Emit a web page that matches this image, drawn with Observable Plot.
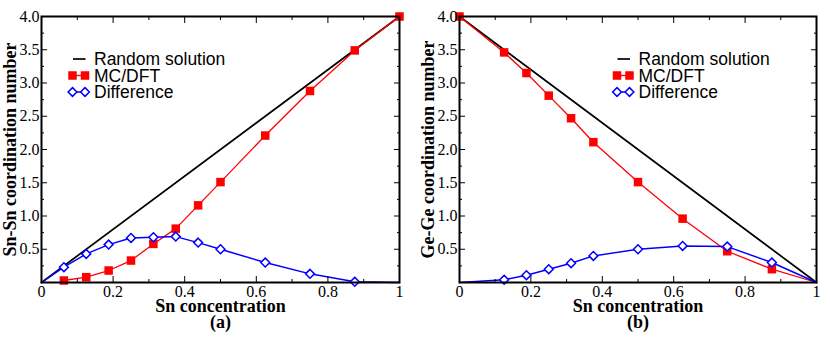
<!DOCTYPE html>
<html><head><meta charset="utf-8">
<script src="https://cdn.jsdelivr.net/npm/d3@7"></script>
<script src="https://cdn.jsdelivr.net/npm/@observablehq/plot@0.6"></script>
<style>
body{margin:0;background:#fff;}
#chart{display:flex;width:830px;height:350px;overflow:hidden;}
#chart svg{overflow:visible;}
</style></head><body><div id="chart"></div>
<script>
// ---- tick labels ----
const xMajorTicks = [0, 0.2, 0.4, 0.6, 0.8, 1];
const xMinorTicks = [0.1, 0.3, 0.5, 0.7, 0.9];
const yMajorTicks = [0.5, 1, 1.5, 2, 2.5, 3, 3.5, 4];
const yMinorTicks = [0.25, 0.75, 1.25, 1.75, 2.25, 2.75, 3.25, 3.75];
const xTickLabels = ["0", "0.2", "0.4", "0.6", "0.8", "1"];
const yTickLabels = ["0.5", "1.0", "1.5", "2.0", "2.5", "3.0", "3.5", "4.0"];
const xTitle = "Sn concentration";
const legendLabels = ["Random solution", "MC/DFT", "Difference"];

// ---- panel (a): Sn-Sn ----
const snRandomX = [0, 1];
const snRandomY = [0, 4];
const snMcX = [0.0625, 0.125, 0.1875, 0.25, 0.3125, 0.375, 0.4375, 0.5, 0.625, 0.75, 0.875, 1];
const snMcY = [0.03, 0.08, 0.18, 0.33, 0.58, 0.81, 1.16, 1.51, 2.21, 2.88, 3.49, 4.0];
const snDiffX = [0, 0.0625, 0.125, 0.1875, 0.25, 0.3125, 0.375, 0.4375, 0.5, 0.625, 0.75, 0.875, 1];
const snDiffY = [0, 0.23, 0.43, 0.57, 0.67, 0.68, 0.69, 0.60, 0.50, 0.30, 0.13, 0.01, 0];

// ---- panel (b): Ge-Ge ----
const geRandomX = [0, 1];
const geRandomY = [4, 0];
const geMcX = [0, 0.125, 0.1875, 0.25, 0.3125, 0.375, 0.5, 0.625, 0.75, 0.875, 1];
const geMcY = [4.0, 3.46, 3.15, 2.81, 2.47, 2.11, 1.51, 0.96, 0.47, 0.20, 0];
const geDiffX = [0, 0.125, 0.1875, 0.25, 0.3125, 0.375, 0.5, 0.625, 0.75, 0.875, 1];
const geDiffY = [0, 0.04, 0.11, 0.20, 0.29, 0.40, 0.50, 0.55, 0.54, 0.30, 0];

const rows = (xs, ys) => xs.map((x, i) => ({x, y: ys[i]}));

const RED = "#ff0000", BLUE = "#0000ff";
const serif = "Liberation Serif";
const sans = "Liberation Sans";

function panel({marginLeft, marginRight, yTitle, tag, random, mc, diff, mcMarker, legendDx}) {
  const tickOnly = {tickFormat: () => "", label: null};
  const xLab = xMajorTicks.map((v, i) => ({v, t: xTickLabels[i]}));
  const yLab = yMajorTicks.map((v, i) => ({v, t: yTickLabels[i]}));
  const plot = Plot.plot({
    width: 415, height: 350,
    marginTop: 16, marginBottom: 68, marginLeft, marginRight,
    x: {domain: [0, 1]},
    y: {domain: [0, 4]},
    style: {fontFamily: serif, fontSize: "16px", color: "black", background: "white", overflow: "visible"},
    marks: [
      Plot.line(random, {x: "x", y: "y", stroke: "black", strokeWidth: 1.7}),
      Plot.line(mc, {x: "x", y: "y", stroke: RED, strokeWidth: 1.3}),
      Plot.dot(mc.filter(mcMarker), {x: "x", y: "y", symbol: "square", r: 4.8, fill: RED, stroke: null}),
      Plot.line(diff, {x: "x", y: "y", stroke: BLUE, strokeWidth: 1.5}),
      Plot.dot(diff.filter(d => d.x > 0 && d.x < 1), {x: "x", y: "y", symbol: "diamond2", r: 4, fill: "white", stroke: BLUE, strokeWidth: 1.5}),
      // inward ticks on all four sides
      Plot.axisX({ticks: xMajorTicks, tickSize: -6, ...tickOnly}),
      Plot.axisX({ticks: xMinorTicks, tickSize: -3, ...tickOnly}),
      Plot.axisX({anchor: "top", ticks: xMajorTicks, tickSize: -6, ...tickOnly}),
      Plot.axisX({anchor: "top", ticks: xMinorTicks, tickSize: -3, ...tickOnly}),
      Plot.axisY({ticks: yMajorTicks, tickSize: -6, ...tickOnly}),
      Plot.axisY({ticks: yMinorTicks, tickSize: -3, ...tickOnly}),
      Plot.axisY({anchor: "right", ticks: yMajorTicks, tickSize: -6, ...tickOnly}),
      Plot.axisY({anchor: "right", ticks: yMinorTicks, tickSize: -3, ...tickOnly}),
      Plot.frame({stroke: "black", strokeWidth: 2}),
      // tick labels (serif)
      Plot.text(xLab, {x: "v", text: "t", frameAnchor: "bottom", dy: 3.5, textAnchor: "middle", lineAnchor: "top",
                       fontFamily: serif, fontSize: 16}),
      Plot.text(yLab, {y: "v", text: "t", frameAnchor: "left", dx: -2, textAnchor: "end", lineAnchor: "middle",
                       fontFamily: serif, fontSize: 16}),
      // titles
      Plot.text([yTitle], {frameAnchor: "left", dx: -31, rotate: -90, textAnchor: "middle", lineAnchor: "middle",
                           fontFamily: serif, fontWeight: "bold", fontSize: 18}),
      Plot.text([xTitle], {frameAnchor: "bottom", dy: 23.5, textAnchor: "middle", lineAnchor: "middle",
                           fontFamily: serif, fontWeight: "bold", fontSize: 18}),
      Plot.text([tag], {frameAnchor: "bottom", dy: 40, textAnchor: "middle", lineAnchor: "middle",
                        fontFamily: serif, fontWeight: "bold", fontSize: 18})
    ]
  });

  const svg = d3.select(plot);
  // legend
  const g = svg.append("g").attr("transform", `translate(${marginLeft + legendDx},0)`);
  const rowY = [59, 75.5, 92];
  const c1 = 0, c2 = 12.5;
  g.append("line").attr("x1", c1 + 0.5).attr("x2", c2 + 0.5).attr("y1", rowY[0]).attr("y2", rowY[0])
    .attr("stroke", "black").attr("stroke-width", 1.7);
  g.append("line").attr("x1", c1).attr("x2", c2).attr("y1", rowY[1]).attr("y2", rowY[1])
    .attr("stroke", RED).attr("stroke-width", 1.3);
  for (const c of [c1, c2]) {
    g.append("rect").attr("x", c - 4.25).attr("y", rowY[1] - 4.25).attr("width", 8.5).attr("height", 8.5).attr("fill", RED);
  }
  g.append("line").attr("x1", c1).attr("x2", c2).attr("y1", rowY[2]).attr("y2", rowY[2])
    .attr("stroke", BLUE).attr("stroke-width", 1.5);
  for (const c of [c1, c2]) {
    g.append("path").attr("d", `M${c},${rowY[2] - 4.4}L${c + 4.4},${rowY[2]}L${c},${rowY[2] + 4.4}L${c - 4.4},${rowY[2]}Z`)
      .attr("fill", "white").attr("stroke", BLUE).attr("stroke-width", 1.5);
  }
  legendLabels.forEach((t, i) => {
    g.append("text").attr("x", 21.5).attr("y", rowY[i] + 6.2)
      .attr("text-anchor", "start")
      .attr("font-family", sans).attr("font-size", "17.5px").attr("fill", "black").text(t);
  });
  return plot;
}

const chart = document.getElementById("chart");
chart.appendChild(panel({
  marginLeft: 41, marginRight: 16, yTitle: "Sn-Sn coordination number", tag: "(a)",
  random: rows(snRandomX, snRandomY), mc: rows(snMcX, snMcY), diff: rows(snDiffX, snDiffY),
  mcMarker: () => true, legendDx: 31.5
}));
chart.appendChild(panel({
  marginLeft: 44, marginRight: 14, yTitle: "Ge-Ge coordination number", tag: "(b)",
  random: rows(geRandomX, geRandomY), mc: rows(geMcX, geMcY), diff: rows(geDiffX, geDiffY),
  mcMarker: d => d.x < 1, legendDx: 158
}));
</script></body></html>
